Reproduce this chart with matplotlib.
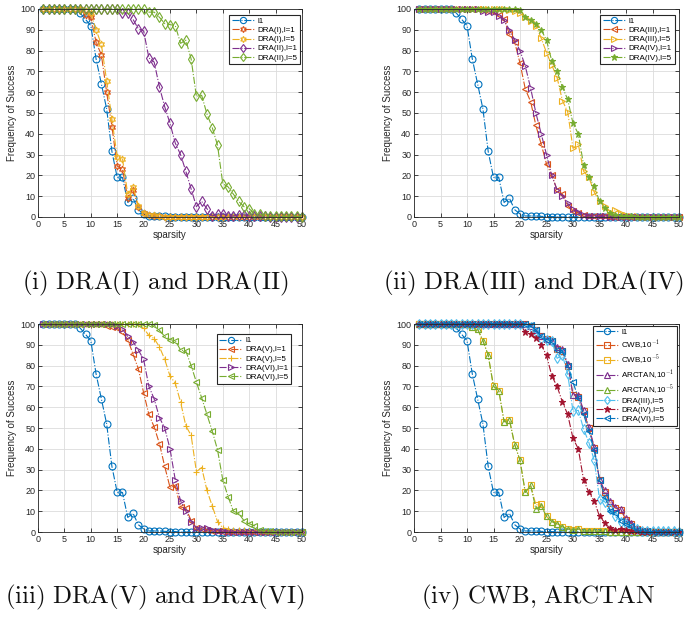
import matplotlib
matplotlib.use("Agg")
import matplotlib.pyplot as plt
import numpy as np

plt.rcParams['font.family'] = ['Liberation Sans', 'DejaVu Sans']
plt.rcParams['mathtext.fontset'] = 'cm'

sparsity = list(range(1, 51))

l1 = [100]*7 + [98, 95, 92, 76, 64, 52, 31.5, 19, 19, 7, 9, 3.5, 1.5, 0.5, 0.5, 0.5, 0.3, 0.2, 0.2] + [0]*24

# (i)
dra1_l1 = [100]*8 + [97, 96, 84, 78, 60, 43.5, 24.5, 23, 9, 13, 5, 2, 1, 0.5, 0.3] + [0]*27
dra1_l5 = [100]*8 + [99, 98, 90, 83, 65.5, 47, 29, 28, 11, 14.5, 5.5, 2, 1, 1, 0.5] + [0]*27
dra2_l1 = [100]*15 + [98, 98, 95, 90.5, 89.5, 76.5, 74.5, 62.5, 53, 45, 35.5, 30, 22, 13.5, 5,
                      7.5, 4, 0.5, 1.5, 1.5, 0.5, 0.5, 1, 1, 0.5, 0.3, 0.5, 0.3] + [0]*7
dra2_l5 = [100]*20 + [98.5, 98.5, 96, 93, 92.5, 92, 83.5, 85, 76, 58, 58.5, 49.5, 43, 34.5, 16,
                      14.5, 11, 7.5, 5, 4, 1.5, 1.5, 0.5, 0.5, 0.3, 0.3, 0.3, 0.5, 0.3, 0]

# (ii)
dra3_l1 = [100]*12 + [99.5, 99, 98.5, 97, 95, 88, 84, 74, 61.5, 55.5, 44, 35, 25.5, 20, 13, 11,
                      5.5, 3, 2, 1, 0.5, 0.5, 0.5, 0.3] + [0]*14
dra4_l1 = [100]*12 + [99, 98.5, 98.5, 96.5, 94.5, 90, 85, 80, 72.5, 62, 50, 40, 30, 20, 13, 10,
                      6.5, 4, 2.5, 1, 0.5, 0.5, 0.3, 0.3, 0.2] + [0]*13
dra3_l5 = [100]*17 + [99.5, 99, 98, 96, 94, 92, 86, 79, 73, 67, 56, 50.5, 33, 35, 22, 19, 12, 7.5,
                      5.5, 2.5, 3.5, 2, 1, 0.5, 0.5] + [0]*8
dra4_l5 = [100]*19 + [99.5, 96, 94.5, 93, 90, 85, 75, 70, 62.5, 56.5, 45, 40, 25, 19, 15, 7.5, 4.5,
                      2, 1, 0.5, 0.3, 0.3] + [0]*9

# (iii)
dra5_l1 = [100]*12 + [99, 98.5, 98, 96, 92.5, 85.5, 78.5, 67, 56.5, 50.5, 42.5, 31.5, 21.5, 22, 12,
                      11.5, 5.5, 2, 1.5, 1, 0.5, 0.5] + [0]*16
dra5_l5 = [100]*19 + [98, 94.5, 93, 89, 83, 75, 71.5, 62.5, 51, 46.5, 29, 31, 20, 12.5, 5, 2, 1.5,
                      1, 1, 1, 0.5, 0.5] + [0]*9
dra6_l1 = [100]*14 + [99, 97.5, 94, 91.5, 87.5, 83, 70, 64, 55, 50, 40, 25, 15, 10, 5, 2, 2, 2, 1,
                      0.5, 0.5] + [0]*15
dra6_l5 = [100]*21 + [99.5, 97, 94, 92.5, 92, 87.5, 87, 80, 72, 64.5, 56.5, 48.5, 39.5, 25, 17, 10,
                      9, 5.5, 4, 3, 1, 0.5, 0.5] + [0]*6

# (iv)
arctan_m5 = [100]*10 + [98.5, 97.5, 92, 85, 70, 68, 53, 54, 42, 34.5, 19, 22.5, 11, 12.5, 7.5, 5, 4,
                        2.5, 1.5, 1, 1.5, 0.5, 0.5, 0.5, 0.3, 0.3] + [0]*14
cwb_m5 = [100]*10 + [98.5, 97.5, 92, 85, 70, 68, 53, 54, 42, 34.5, 19, 22.5, 13, 13.5, 7.5, 5, 4,
                     2.5, 1.5, 1, 1.5, 0.5, 0.5, 0.5, 0.3, 0.3] + [0]*14
arctan_m1 = [100]*21 + [99, 97, 94, 93, 92, 89, 88, 81, 66, 66, 58.5, 50.5, 41, 25, 20, 15, 12, 11,
                        6.5, 4.5, 1.5, 0.5, 0.3] + [0]*6
cwb_m1 = [100]*21 + [99, 97, 94, 93, 92, 88, 87, 80, 66, 65, 58, 50, 40.5, 25, 19, 14, 11.5, 10.5,
                     6, 4, 1.5, 0.5, 0.3] + [0]*6
dra3_l5_iv = dra2_l5
dra4_l5_iv = [100]*20 + [96, 95, 93.5, 90, 85, 75, 70, 62.5, 56.5, 45, 40, 25, 19, 15, 7.5, 4.5, 2, 1,
                         1.5, 1, 0.5, 0.3] + [0]*8
dra6_l5_iv = dra6_l5

C_BLUE = '#0072BD'
C_ORANGE = '#D95319'
C_YELLOW = '#EDB120'
C_PURPLE = '#7E2F8E'
C_GREEN = '#77AC30'
C_LBLUE = '#4DBEEE'
C_DRED = '#A2142F'
HEX = (6, 1, 0)

fig = plt.figure(figsize=(6.96, 6.19), dpi=100)
W, H = 696, 619

def add_axes(l, r, t, b):
    return fig.add_axes([l / W, 1 - b / H, (r - l) / W, (b - t) / H])

axes = [add_axes(38, 302, 9, 217), add_axes(414, 679, 9, 217),
        add_axes(38, 302, 324, 532), add_axes(414, 679, 324, 532)]

def series(ax, y, color, marker, label, filled=False, ms=5):
    ax.plot(sparsity, y, linestyle='-.', color=color, marker=marker, ms=ms, lw=0.8,
            mfc=color if filled else 'none', mec=color, mew=0.8, label=label, clip_on=False)

s = [
    [(l1, C_BLUE, 'o', 'l1'), (dra1_l1, C_ORANGE, HEX, 'DRA(I),l=1'), (dra1_l5, C_YELLOW, HEX, 'DRA(I),l=5'),
     (dra2_l1, C_PURPLE, 'd', 'DRA(II),l=1'), (dra2_l5, C_GREEN, 'd', 'DRA(II),l=5')],
    [(l1, C_BLUE, 'o', 'l1'), (dra3_l1, C_ORANGE, '<', 'DRA(III),l=1'), (dra3_l5, C_YELLOW, '>', 'DRA(III),l=5'),
     (dra4_l1, C_PURPLE, '>', 'DRA(IV),l=1'), (dra4_l5, C_GREEN, '*', 'DRA(IV),l=5')],
    [(l1, C_BLUE, 'o', 'l1'), (dra5_l1, C_ORANGE, '<', 'DRA(V),l=1'), (dra5_l5, C_YELLOW, '+', 'DRA(V),l=5'),
     (dra6_l1, C_PURPLE, '>', 'DRA(VI),l=1'), (dra6_l5, C_GREEN, '<', 'DRA(VI),l=5')],
    [(l1, C_BLUE, 'o', 'l1'), (cwb_m1, C_ORANGE, 's', 'CWB,10$^{-1}$'), (cwb_m5, C_YELLOW, 's', 'CWB,10$^{-5}$'),
     (arctan_m1, C_PURPLE, '^', 'ARCTAN,10$^{-1}$'), (arctan_m5, C_GREEN, '^', 'ARCTAN,10$^{-5}$'),
     (dra3_l5_iv, C_LBLUE, 'd', 'DRA(III),l=5'), (dra4_l5_iv, C_DRED, '*', 'DRA(IV),l=5'),
     (dra6_l5_iv, C_BLUE, '<', 'DRA(VI),l=5')],
]

legend_anchor = [(1.0, 0.98), (0.99, 0.98), (0.965, 0.96), (1.0, 1.0)]

for ax, ss, anc in zip(axes, s, legend_anchor):
    for y, c, m, lab in ss:
        series(ax, y, c, m, lab, filled=(m == '*'))
    ax.set_xlim(0, 50)
    ax.set_ylim(0, 100)
    ax.set_xticks(range(0, 51, 5))
    ax.set_yticks(range(0, 101, 10))
    ax.grid(True, color='#dcdcdc', lw=0.6)
    ax.set_axisbelow(True)
    ax.tick_params(direction='in', length=3, width=0.6, labelsize=6.5, colors='#262626',
                   top=True, right=True, pad=2)
    for sp in ax.spines.values():
        sp.set_color('#262626')
        sp.set_linewidth(0.6)
    ax.set_xlabel('sparsity', fontsize=7, color='#262626', labelpad=1)
    ax.set_ylabel('Frequency of Success', fontsize=7, color='#262626', labelpad=2)
    leg = ax.legend(loc='upper right', bbox_to_anchor=anc, fontsize=5.8, handlelength=2.8,
                    labelspacing=0.18, borderpad=0.35, handletextpad=0.4, fancybox=False,
                    framealpha=1, edgecolor='#262626', borderaxespad=0.2, markerscale=0.9)
    leg.get_frame().set_linewidth(0.8)

cap = dict(fontsize=18, va='center', color='#111111')
fig.text(22 / W, 1 - 283 / H, r'$\mathrm{(i)\ DRA(I)\ and\ DRA(II)}$', ha='left', **cap)
fig.text(383 / W, 1 - 283 / H, r'$\mathrm{(ii)\ DRA(III)\ and\ DRA(IV)}$', ha='left', **cap)
fig.text(5 / W, 1 - 597 / H, r'$\mathrm{(iii)\ DRA(V)\ and\ DRA(VI)}$', ha='left', **cap)
fig.text(421 / W, 1 - 597 / H, r'$\mathrm{(iv)\ CWB{,}\ ARCTAN}$', ha='left', **cap)

fig.savefig('out.png', dpi=100)
